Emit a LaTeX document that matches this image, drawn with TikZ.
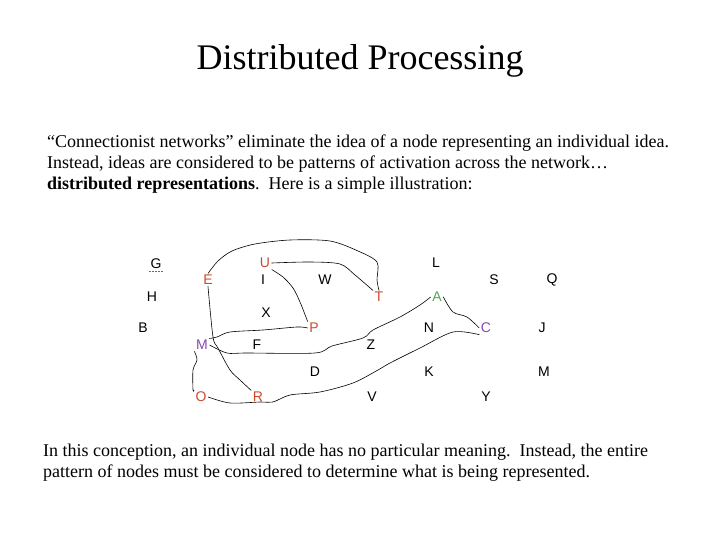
\documentclass[tikz,border=0pt]{standalone}
\usepackage{fontspec}
\setmainfont{Liberation Serif}
\setsansfont{Liberation Sans}
\usetikzlibrary{positioning}

\definecolor{unitred}{RGB}{204,74,44}
\definecolor{unitgreen}{RGB}{80,168,84}
\definecolor{unitpurple}{RGB}{136,68,180}

\tikzset{
  unit/.style={font=\sffamily\fontsize{14bp}{14bp}\selectfont, inner sep=1.5bp},
  link/.style={line width=0.6pt, line cap=round, line join=round},
  body/.style={font=\fontsize{18bp}{21bp}\selectfont, align=left, inner sep=0pt}
}

\begin{document}
\begin{tikzpicture}[x=1bp, y=-1bp]
    \useasboundingbox (0,0) rectangle (720,540);

    % title and text
    \node[anchor=base, inner sep=0pt, font=\fontsize{36bp}{40bp}\selectfont] (title) at (360,70) {Distributed Processing};
    \node[body, anchor=base west] (intro) at (47,190) {``Connectionist networks'' eliminate the idea of a node representing an individual idea.\\
      Instead, ideas are considered to be patterns of activation across the network\dots\\
      \textbf{distributed representations}.\ \ Here is a simple illustration:};
    \node[body, anchor=base west] (outro) at (43,477) {In this conception, an individual node has no particular meaning.\ \ Instead, the entire\\
      pattern of nodes must be considered to determine what is being represented.};

    % units, row by row
    \node[unit] (G) at (156,264) {G};
    \node[unit, unitred] (U) at (265,263) {U};
    \node[unit] (L) at (436,263) {L};
    \node[unit, unitred] (E) at (208,280) {E};
    \node[unit] (I) at (263,280) {I};
    \node[unit] (W) at (325,280) {W};
    \node[unit] (S) at (494,280) {S};
    \node[unit] (Q) at (552,280) {Q};
    \node[unit] (H) at (152,297) {H};
    \node[unit, unitred] (T) at (379,297) {T};
    \node[unit, unitgreen] (A) at (437,297) {A};
    \node[unit] (X) at (266,313) {X};
    \node[unit] (B) at (143,328) {B};
    \node[unit, unitred] (P) at (314,328) {P};
    \node[unit] (N) at (429,328) {N};
    \node[unit, unitpurple] (C) at (486,328) {C};
    \node[unit] (J) at (542,328) {J};
    \node[unit, unitpurple] (M) at (202,345) {M};
    \node[unit] (F) at (257,345) {F};
    \node[unit] (Z) at (371,345) {Z};
    \node[unit] (D) at (315,372) {D};
    \node[unit] (K) at (429,372) {K};
    \node[unit] (M2) at (544,372) {M};
    \node[unit, unitred] (O) at (201,397) {O};
    \node[unit, unitred] (R) at (258,397) {R};
    \node[unit] (V) at (372,397) {V};
    \node[unit] (Y) at (486,397) {Y};

    % spell-check mark under G
    \draw[unitred, densely dotted, line width=0.5pt] ([yshift=-1bp]G.south west) -- ([yshift=-1bp]G.south east);

    % connections
    \draw[link] plot[smooth, tension=0.5] coordinates {(E.north) (218,261) (232,251) (255,244) (290,240) (330,241) (358,251) (377,262) (377,280) (T.north)};
    \draw[link] plot[smooth, tension=0.5] coordinates {(U.east) (310,262) (340,264) (355,275) (T.north west)};
    \draw[link] plot[smooth, tension=0.5] coordinates {(U.south east) (283,277) (293,288) (300,302) (P.north west)};
    \draw[link] plot[smooth, tension=0.5] coordinates {(E.south) (213,337) (218,348) (230,370) (240,380) (R.north west)};
    \draw[link] plot[smooth, tension=0.5] coordinates {(M.north east) (217,337) (230,332) (263,330) (297,327) (P.west)};
    \draw[link] plot[smooth, tension=0.5] coordinates {(M.east) (227,353) (247,353) (315,353) (332,346) (363,338) (373,330) (400,317) (420,305) (A.west)};
    \draw[link] plot[smooth, tension=0.5] coordinates {(A.east) (453,312) (467,317) (C.west)};
    \draw[link] plot[smooth, tension=0.5] coordinates {(O.east) (230,403) (260,402) (273,402) (290,395) (320,392) (353,383) (378,370) (390,363) (420,348) (453,332) (C.south west)};
    \draw[link] plot[smooth, tension=0.5] coordinates {(M.south west) (197,360) (193,370) (193,390) (O.north west)};
\end{tikzpicture}
\end{document}
